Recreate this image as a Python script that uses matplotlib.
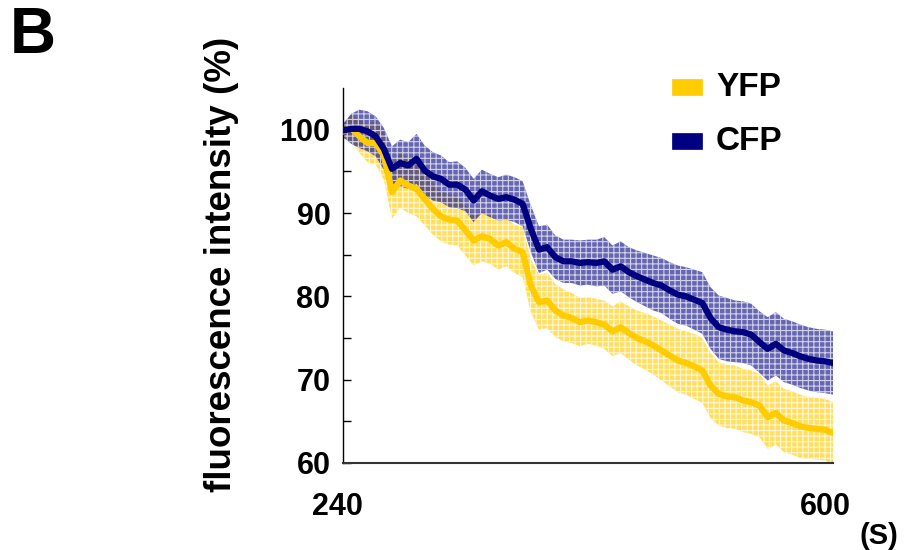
import matplotlib
matplotlib.use("Agg")
import matplotlib.pyplot as plt
import matplotlib.transforms as mtransforms
from matplotlib.patches import Rectangle
import numpy as np

plt.rcParams['font.family'] = ['Liberation Sans', 'DejaVu Sans']
plt.rcParams['font.weight'] = 'bold'
plt.rcParams['hatch.linewidth'] = 0.8

# ---- data (time in s, intensity in %) ----
time_s = [240, 246, 252, 258, 264, 270, 276, 282, 288, 294, 300, 306, 312, 318, 324,
          330, 336, 342, 348, 354, 360, 366, 372, 378, 384, 390, 396, 402, 408, 414,
          420, 426, 432, 438, 444, 450, 456, 462, 468, 474, 480, 486, 492, 498, 504,
          510, 516, 522, 528, 534, 540, 546, 552, 558, 564, 570, 576, 582, 588, 594, 600]

cfp_mean = [99.9, 100.1, 100.1, 99.8, 99.2, 97.7, 95.3, 96.0, 95.7, 96.5, 95.1, 94.4, 94.1, 93.4, 93.4,
            92.8, 91.5, 92.6, 92.1, 91.7, 91.9, 91.6, 91.1, 88.1, 85.6, 85.9, 84.7, 84.2, 84.2, 84.0,
            84.1, 84.0, 84.2, 83.2, 83.6, 82.9, 82.4, 82.0, 81.6, 81.3, 80.7, 80.2, 80.0, 79.6, 79.2,
            77.4, 76.3, 76.0, 75.8, 75.7, 75.4, 74.5, 73.7, 74.3, 73.5, 73.2, 72.8, 72.5, 72.3, 72.2, 72.0]

cfp_err = [0.8, 1.8, 2.3, 2.4, 2.4, 2.5, 2.7, 2.8, 2.8, 3.0, 3.0, 2.9, 2.8, 2.7, 2.8,
           2.6, 2.6, 2.6, 2.6, 2.6, 2.7, 2.7, 2.7, 2.8, 2.8, 2.7, 2.6, 2.6, 2.6, 2.7,
           2.7, 2.8, 2.9, 2.9, 3.0, 3.0, 3.1, 3.2, 3.3, 3.3, 3.4, 3.5, 3.5, 3.6, 3.7,
           3.7, 3.8, 3.8, 3.7, 3.7, 3.7, 3.7, 3.8, 3.8, 3.8, 3.8, 3.8, 3.8, 3.8, 3.8, 3.8]

yfp_mean = [99.8, 100.2, 99.2, 98.4, 98.4, 96.9, 92.5, 93.9, 93.3, 92.9, 91.7, 90.5, 89.6, 89.2, 89.1,
            87.9, 86.7, 87.2, 86.9, 86.1, 86.5, 85.7, 85.3, 81.3, 79.3, 79.5, 78.3, 77.7, 77.4, 76.9,
            77.1, 76.9, 76.6, 75.8, 76.3, 75.6, 75.0, 74.6, 74.1, 73.5, 72.9, 72.3, 72.0, 71.6, 71.1,
            69.3, 68.3, 68.0, 67.9, 67.5, 67.3, 66.9, 65.5, 66.0, 65.1, 64.8, 64.4, 64.2, 64.1, 64.0, 63.6]

yfp_err = [0.8, 1.6, 2.0, 2.3, 2.6, 2.9, 3.2, 3.3, 3.3, 3.3, 3.2, 3.1, 3.0, 3.0, 3.0,
           3.0, 3.0, 3.0, 3.0, 2.9, 2.9, 2.9, 3.0, 3.2, 3.3, 3.3, 3.2, 3.1, 3.0, 2.9,
           2.8, 2.8, 2.9, 3.0, 3.1, 3.2, 3.3, 3.4, 3.5, 3.6, 3.7, 3.8, 3.8, 3.9, 3.9,
           3.9, 3.8, 3.8, 3.8, 3.8, 3.8, 3.8, 3.8, 3.8, 3.8, 3.8, 3.8, 3.7, 3.7, 3.7, 3.7]

series_names = ['YFP', 'CFP']
yticks_major = [60, 70, 80, 90, 100]
yticks_minor = [65, 75, 85, 95]
xtick_vals = [240, 600]

YELLOW = '#FFCC00'
NAVY = '#000080'

t = np.array(time_s)
ym, ye = np.array(yfp_mean), np.array(yfp_err)
cm, ce = np.array(cfp_mean), np.array(cfp_err)

fig = plt.figure(figsize=(9.06, 5.5), dpi=100)
W, H = 906, 550
ax = fig.add_axes([343 / W, (H - 463) / H, 490 / W, 375 / H])

# error bands: coloured dots with white gaps, like dense dotted error bars
ax.fill_between(t, ym - ye, ym + ye, facecolor=(1.0, 0.8, 0.0, 0.62),
                edgecolor=(1, 1, 1, 0.75), hatch='+++', linewidth=0, zorder=1)
ax.fill_between(t, cm - ce, cm + ce, facecolor=(0.0, 0.0, 0.5, 0.6),
                edgecolor=(1, 1, 1, 0.7), hatch='+++', linewidth=0, zorder=2)
# mean lines
ax.plot(t, ym, color=YELLOW, lw=4.5, solid_joinstyle='round', zorder=3)
ax.plot(t, cm, color=NAVY, lw=4.5, solid_joinstyle='round', zorder=4)

ax.set_xlim(240, 600)
ax.set_ylim(60, 105)
ax.spines['top'].set_visible(False)
ax.spines['right'].set_visible(False)
ax.spines['left'].set_linewidth(1.0)
ax.spines['bottom'].set_linewidth(1.5)
ax.spines['bottom'].set_color('#333333')

ax.set_yticks(yticks_major)
ax.set_yticks(yticks_minor, minor=True)
ax.tick_params(axis='y', which='both', direction='in', length=6, width=1.0,
               labelsize=22, pad=9)
for lab in ax.get_yticklabels():
    lab.set_fontweight('bold')

ax.set_xticks(xtick_vals)
ax.set_xticklabels([str(v) for v in xtick_vals], fontsize=22, fontweight='bold')
ax.tick_params(axis='x', length=0, pad=21)
offsets = [-6, -8]
for lab, dx in zip(ax.get_xticklabels(), offsets):
    lab.set_transform(lab.get_transform() +
                      mtransforms.ScaledTranslation(dx / 100, 0, fig.dpi_scale_trans))

ax.set_ylabel('fluorescence intensity (%)', fontsize=26.5, fontweight='bold')
ax.yaxis.set_label_coords(-0.212, 0.53)

fig.text(879 / W, 1 - 536 / H, '(S)', fontsize=21, fontweight='bold',
         ha='center', va='center')
fig.text(33 / W, 1 - 36 / H, 'B', fontsize=46, fontweight='bold',
         ha='center', va='center')

# legend
for name, col, yc in zip(series_names, [YELLOW, NAVY], [87, 141]):
    fig.add_artist(Rectangle((672 / W, 1 - (yc + 8) / H), 30 / W, 16 / H,
                             transform=fig.transFigure, facecolor=col,
                             edgecolor=col, linewidth=0.5))
    fig.text(716 / W, 1 - yc / H, name, fontsize=24, fontweight='bold',
             ha='left', va='center')

fig.savefig('out.png', dpi=100)
